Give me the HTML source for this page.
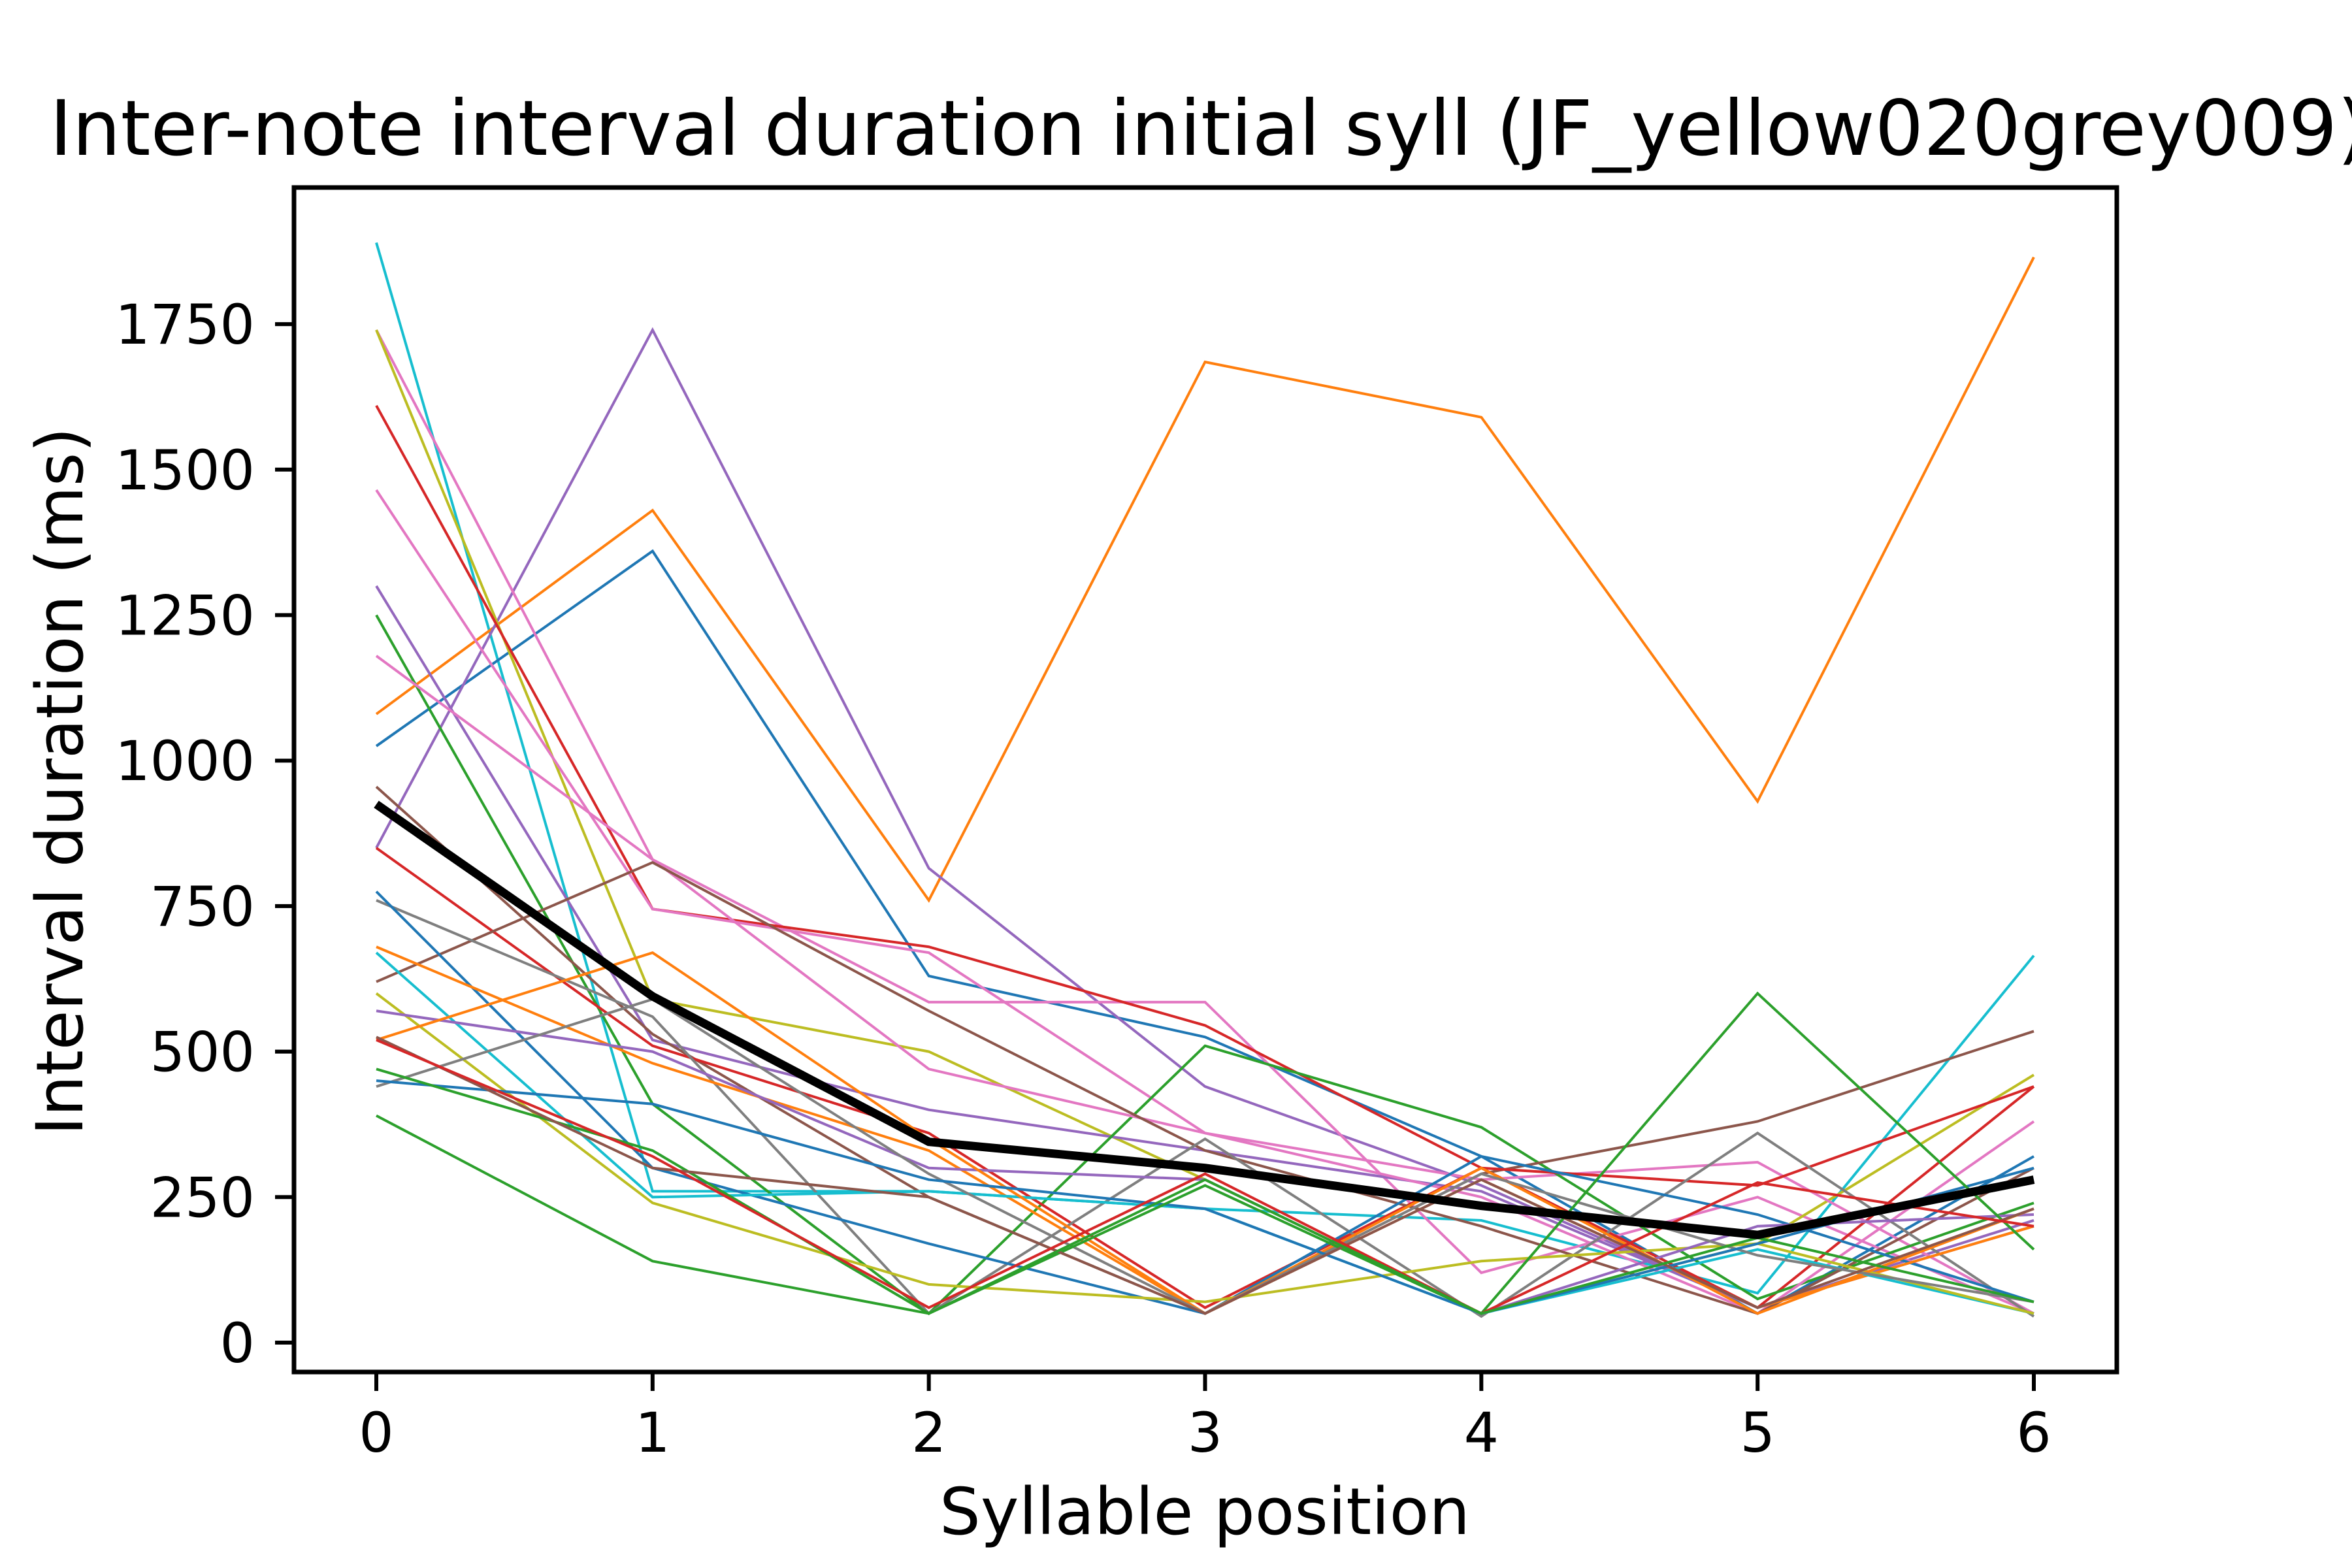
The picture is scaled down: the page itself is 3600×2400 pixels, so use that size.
<!DOCTYPE html>
<html><head><meta charset="utf-8"><style>
html,body{margin:0;padding:0;background:#fff}
svg{display:block}
text{font-family:"DejaVu Sans","Liberation Sans",sans-serif;fill:#000}
</style></head><body>
<svg id="chart" width="3600" height="2400" viewBox="0 0 3600 2400" xmlns="http://www.w3.org/2000/svg">
<rect x="0" y="0" width="3600" height="2400" fill="#fff"/>
<text x="76" y="237" font-size="117">Inter-note interval duration initial syll (JF_yellow020grey009)</text>
<g id="series"></g>
<g id="axes"></g>
<text x="1844" y="2348" font-size="99" text-anchor="middle">Syllable position</text>
<text transform="translate(126,1196) rotate(-90)" font-size="99" text-anchor="middle">Interval duration (ms)</text>
</svg>
<script>
const positions = [0,1,2,3,4,5,6];
const xTickLabels = ["0","1","2","3","4","5","6"];
const yTickValues = [0,250,500,750,1000,1250,1500,1750];
const seriesColors = ["#17becf","#ff7f0e","#1f77b4","#9467bd","#e377c2","#bcbd22","#d62728","#e377c2","#9467bd","#2ca02c","#e377c2","#8c564b","#d62728","#8c564b","#7f7f7f","#1f77b4","#ff7f0e","#17becf","#bcbd22","#9467bd","#ff7f0e","#7f7f7f","#1f77b4","#2ca02c","#8c564b","#d62728","#2ca02c"];
const s01 = [1890,260,260,230,210,85,665];
const s02 = [1080,1430,760,1685,1590,930,1865];
const s03 = [1025,1360,630,525,320,50,320];
const s04 = [850,1740,815,440,270,60,210];
const s05 = [1740,830,585,585,120,250,50];
const s06 = [1740,590,500,280,50,170,460];
const s07 = [1610,745,680,545,300,60,440];
const s08 = [1465,745,670,360,280,310,50];
const s09 = [1300,520,400,330,260,60,200];
const s10 = [1250,410,50,510,370,75,240];
const s11 = [1180,830,470,360,250,50,380];
const s12 = [955,530,250,50,290,380,535];
const s13 = [850,510,360,60,300,270,440];
const s14 = [620,825,570,330,200,50,300];
const s15 = [760,560,50,350,45,360,45];
const s16 = [775,300,170,50,320,220,70];
const s17 = [680,480,330,50,280,60,200];
const s18 = [670,250,260,230,50,160,50];
const s19 = [600,240,100,70,140,170,50];
const s20 = [570,500,300,280,50,200,220];
const s21 = [520,670,350,50,300,50,230];
const s22 = [440,590,290,50,290,150,70];
const s23 = [450,410,280,230,50,170,300];
const s24 = [470,330,50,270,50,600,160];
const s25 = [525,300,250,50,280,60,230];
const s26 = [520,320,60,290,50,275,200];
const s27 = [390,140,50,280,50,180,70];
const meanValues = [925,595,345,300,235,185,280];
const allSeries = [s01,s02,s03,s04,s05,s06,s07,s08,s09,s10,s11,s12,s13,s14,s15,s16,s17,s18,s19,s20,s21,s22,s23,s24,s25,s26,s27];

const NS = "http://www.w3.org/2000/svg";
const L = 450, R = 3240, T = 287, B = 2100;
function xScale(v){ return 576 + v * (3113 - 576) / 6; }
function yScale(v){ return 2055 - v * 222.7 / 250; }
function mk(tag, attrs){ const e = document.createElementNS(NS, tag); for (const k in attrs) e.setAttribute(k, attrs[k]); return e; }

const sg = document.getElementById('series');
allSeries.forEach((s, i) => {
  const p = mk('polyline', {points: s.map((v, j) => xScale(positions[j]) + ',' + yScale(v)).join(' '), fill: 'none', stroke: seriesColors[i], 'stroke-width': 4, 'stroke-linejoin': 'miter'});
  
  
  sg.appendChild(p);
});
const m = mk('polyline', {points: meanValues.map((v, j) => xScale(positions[j]) + ',' + yScale(v)).join(' '), fill: 'none', stroke: '#000', 'stroke-width': 13});


sg.appendChild(m);

const ag = document.getElementById('axes');
const frame = mk('rect', {x: L, y: T, width: R - L, height: B - T, fill: 'none', stroke: '#000', 'stroke-width': 7});


ag.appendChild(frame);
positions.forEach((p, i) => {
  const x = xScale(p);
  const t = mk('line', {x1: x, x2: x, y1: B, y2: B + 29, stroke: '#000', 'stroke-width': 6});
  
  
  ag.appendChild(t);
  const lb = mk('text', {x: x, y: 2222, 'font-size': 84, 'text-anchor': 'middle'});
  lb.textContent = xTickLabels[i];
  
  
  ag.appendChild(lb);
});
yTickValues.forEach(v => {
  const y = yScale(v);
  const t = mk('line', {x1: L - 29, x2: L, y1: y, y2: y, stroke: '#000', 'stroke-width': 6});
  
  
  ag.appendChild(t);
  const lb = mk('text', {x: 390, y: y + 30, 'font-size': 84, 'text-anchor': 'end'});
  lb.textContent = String(v);
  
  
  ag.appendChild(lb);
});
</script>
</body></html>
